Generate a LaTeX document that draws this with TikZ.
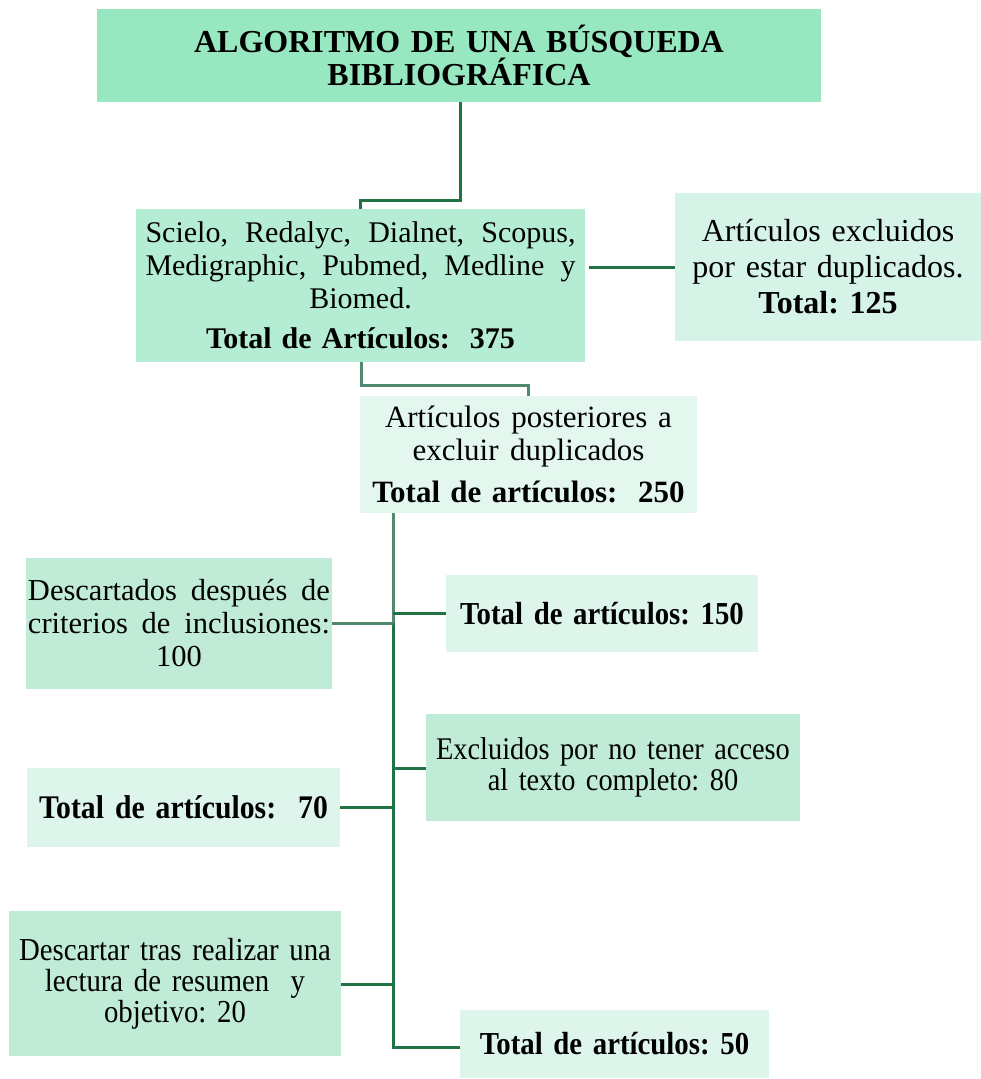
\documentclass[tikz,border=0pt]{standalone}
\usepackage{fontspec}
\setmainfont{Liberation Serif}
\newfontfamily\cond[FakeStretch=0.9,WordSpace=0.75]{Liberation Serif}
\definecolor{cTitle}{HTML}{97E8C1}
\definecolor{cSrc}{HTML}{B4ECD4}
\definecolor{cDup}{HTML}{D5F3E6}
\definecolor{cPost}{HTML}{E3F7EE}
\definecolor{cMid}{HTML}{C0EBD7}
\definecolor{cLight}{HTML}{DDF5EA}
\definecolor{lineD}{HTML}{217346}
\definecolor{lineL}{HTML}{4F8A6C}
\newcommand{\spreadln}[2]{\leavevmode\hbox to #1{#2}}
\begin{document}
\frenchspacing
\begin{tikzpicture}[x=1pt,y=-1pt,
  box/.style={rectangle, inner sep=0pt, align=center, draw=none},
  conn/.style={line width=3pt, draw=lineD},
  connL/.style={line width=3pt, draw=lineL},
  lowfont/.style={font=\cond\fontsize{32}{32}\selectfont}]
\useasboundingbox (0,0) rectangle (981,1079);

\node[box, fill=cTitle, minimum width=724pt, minimum height=93pt, text width=714pt,
  font=\fontsize{32}{32}\selectfont\bfseries] (title) at (459,55.5)
  {ALGORITMO DE UNA BÚSQUEDA\\BIBLIOGRÁFICA};

\node[box, fill=cSrc, minimum width=449pt, minimum height=153pt, text width=440pt,
  font=\fontsize{30}{33}\selectfont] (src) at (360.5,285.5)
  {\spreadln{430pt}{Scielo,\hfill Redalyc,\hfill Dialnet,\hfill Scopus,}\\
   \spreadln{430pt}{Medigraphic,\hfill Pubmed,\hfill Medline\hfill y}\\
   Biomed.\\[7pt]
   \textbf{Total de Artículos:\ \ 375}};

\node[box, fill=cDup, minimum width=306pt, minimum height=148pt, text width=300pt,
  font=\fontsize{32}{36}\selectfont] (dup) at (828,267)
  {Artículos excluidos\\por estar duplicados.\\\textbf{Total: 125}};

\node[box, fill=cPost, minimum width=337pt, minimum height=117pt, text width=330pt,
  font=\fontsize{31}{33}\selectfont] (post) at (528.5,454.5)
  {\spreadln{287pt}{Artículos\hfill posteriores\hfill a}\\
   \spreadln{232pt}{excluir\hfill duplicados}\\[9pt]
   \textbf{Total de artículos:\ \ 250}};

\node[box, fill=cMid, minimum width=306pt, minimum height=131pt, text width=304pt,
  font=\fontsize{30.5}{33}\selectfont] (desc) at (179,623.5)
  {\spreadln{302pt}{Descartados\hfill después\hfill de}\\
   \spreadln{302pt}{criterios\hfill de\hfill inclusiones:}\\
   100};

\node[box, fill=cLight, minimum width=312pt, minimum height=77pt, text width=306pt,
  lowfont] (t150) at (602,613.5)
  {\textbf{Total de artículos: 150}};

\node[box, fill=cMid, minimum width=374pt, minimum height=107pt, text width=368pt,
  font=\cond\fontsize{31.5}{31}\selectfont] (ex80) at (613,767.5)
  {Excluidos por no tener acceso\\al texto completo: 80};

\node[box, fill=cLight, minimum width=313pt, minimum height=79pt, text width=307pt,
  font=\cond\fontsize{33}{33}\selectfont] (t70) at (183.5,807.5)
  {\textbf{Total de artículos:\ \ 70}};

\node[box, fill=cMid, minimum width=332pt, minimum height=145pt, text width=326pt,
  font=\cond\fontsize{32}{31}\selectfont] (d20) at (175,983.5)
  {Descartar tras realizar una\\lectura de resumen\ \ y\\objetivo: 20};

\node[box, fill=cLight, minimum width=309pt, minimum height=68pt, text width=303pt,
  lowfont] (t50) at (614.5,1044)
  {\textbf{Total de artículos: 50}};

% connectors
\coordinate (c1) at (460,200);
\coordinate (c2) at (589,267);
\coordinate (c3) at (361,385);
\coordinate (b1) at (393,623);
\coordinate (b2) at (393,613);
\coordinate (b3) at (393,768);
\coordinate (b4) at (393,807);
\coordinate (b5) at (393,984);
\coordinate (b6) at (393,1047);

\draw[conn] (title.south -| c1) -- (c1) -| (src.north);
\draw[conn] (c2) -- (dup.west |- c2);
\draw[connL] (src.south -| c3) -- (c3) -| (post.north);
\draw[connL] (post.south -| b1) -- (b1);
\draw[conn] (b1) -- (b6) -- (t50.west |- b6);
\draw[connL] (desc.east |- b1) -- (b1);
\draw[conn] (b2) -- (t150.west |- b2);
\draw[conn] (b3) -- (ex80.west |- b3);
\draw[conn] (t70.east |- b4) -- (b4);
\draw[conn] (d20.east |- b5) -- (b5);
\end{tikzpicture}
\end{document}
